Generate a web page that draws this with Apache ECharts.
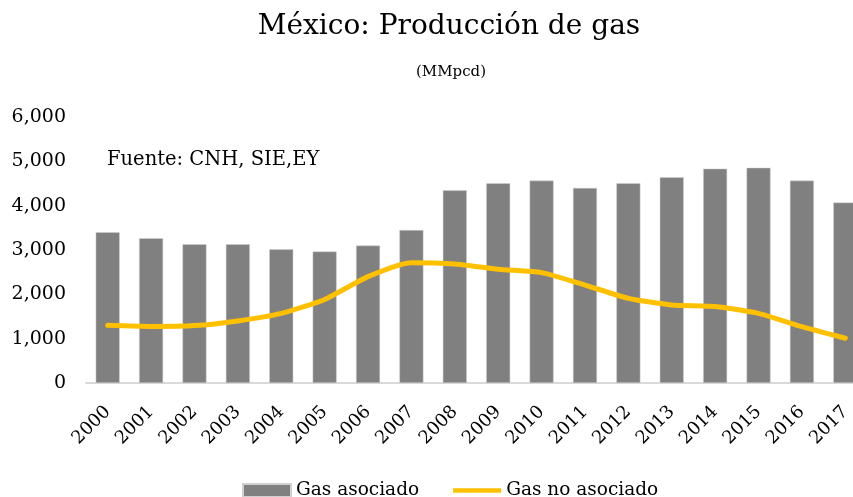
<!DOCTYPE html>
<html>
<head>
<meta charset="utf-8">
<script src="https://cdn.jsdelivr.net/npm/echarts@6/dist/echarts.min.js"></script>
<style>
  html, body { margin: 0; padding: 0; background: #fff; overflow: hidden; }
  #chart { width: 853px; height: 497px; }
</style>
</head>
<body>
<div id="chart"></div>
<script>
const years = ['2000', '2001', '2002', '2003', '2004', '2005', '2006', '2007', '2008',
  '2009', '2010', '2011', '2012', '2013', '2014', '2015', '2016', '2017']
const gasAsociado = [3400, 3265, 3130, 3130, 3015, 2965, 3100, 3450, 4345,
  4505, 4565, 4400, 4505, 4640, 4835, 4855, 4565, 4070]
const gasNoAsociado = [1300, 1275, 1295, 1400, 1570, 1885, 2400, 2715, 2685,
  2565, 2490, 2210, 1910, 1760, 1725, 1570, 1270, 1010]
const yTicks = [0, 1000, 2000, 3000, 4000, 5000, 6000]

const font = '"DejaVu Serif", serif'
const chart = echarts.init(document.getElementById('chart'))

const option = {
  animation: false,
  title: [
    {
      text: 'México: Producción de gas',
      left: 444,
      top: 8,
      textAlign: 'center',
      textStyle: { fontFamily: font, fontSize: 28, fontWeight: 'normal', color: '#000' }
    },
    {
      text: '(MMpcd)',
      left: 446,
      top: 60,
      textAlign: 'center',
      textStyle: { fontFamily: font, fontSize: 15, fontWeight: 'normal', color: '#000' }
    }
  ],
  graphic: [
    {
      type: 'text',
      left: 107,
      top: 150,
      style: { text: 'Fuente: CNH, SIE,EY', font: '19.5px ' + font, fill: '#000' }
    }
  ],
  legend: {
    top: 476,
    left: 237,
    itemGap: 34,
    itemWidth: 48,
    itemHeight: 13,
    textStyle: { fontFamily: font, fontSize: 18.5, color: '#000' },
    data: [
      { name: 'Gas asociado', icon: 'rect' },
      { name: 'Gas no asociado', icon: 'path://M0,0 L52,0 L52,5 L0,5 Z' }
    ]
  },
  grid: {
    left: 86,
    right: -14,
    top: 117,
    bottom: 114,
    outerBoundsMode: 'none'
  },
  xAxis: {
    type: 'category',
    data: years,
    axisTick: { show: false },
    axisLine: { lineStyle: { color: '#d9d9d9', width: 2 } },
    axisLabel: {
      rotate: 45,
      interval: 0,
      margin: 26,
      fontFamily: font,
      fontSize: 18,
      color: '#000'
    }
  },
  yAxis: {
    type: 'value',
    min: yTicks[0],
    max: yTicks[yTicks.length - 1],
    interval: 1000,
    splitLine: { show: false },
    axisLine: { show: false },
    axisTick: { show: false },
    axisLabel: {
      fontFamily: font,
      fontSize: 19,
      color: '#000',
      margin: 20,
      formatter: (v) => v.toLocaleString('en-US')
    }
  },
  series: [
    {
      name: 'Gas asociado',
      type: 'bar',
      data: gasAsociado,
      barWidth: 24,
      itemStyle: { color: '#808080', borderColor: '#d0d0d0', borderWidth: 0.5 }
    },
    {
      name: 'Gas no asociado',
      type: 'line',
      data: gasNoAsociado,
      smooth: 0.2,
      symbol: 'none',
      lineStyle: { color: '#FFC000', width: 5, cap: 'round' },
      itemStyle: { color: '#FFC000' }
    }
  ]
}

chart.setOption(option)
</script>
</body>
</html>
